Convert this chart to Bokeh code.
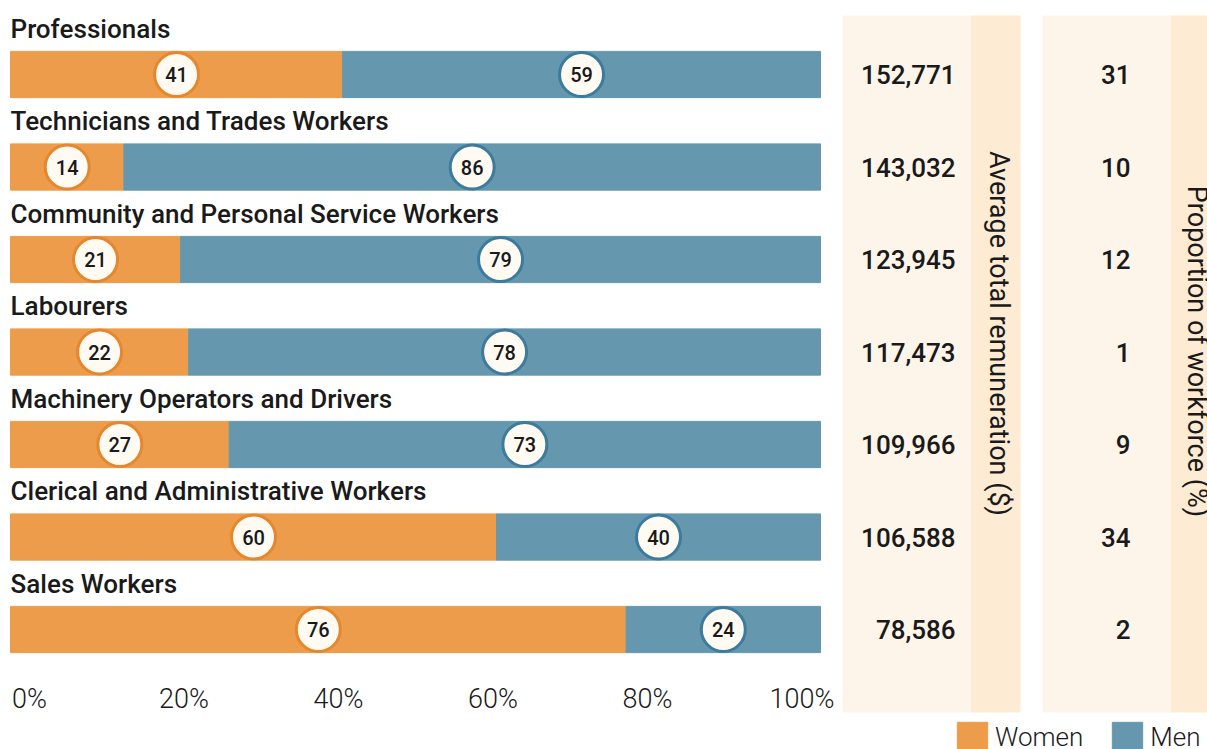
import math
from bokeh.plotting import figure
from bokeh.models import Range1d, BoxAnnotation, Legend, LegendItem, ColumnDataSource, Label
from bokeh.core.properties import value
from bokeh.embed import file_html
from bokeh.resources import INLINE

# ---------------- data ----------------
categories = ["Professionals", "Technicians and Trades Workers",
              "Community and Personal Service Workers", "Labourers",
              "Machinery Operators and Drivers", "Clerical and Administrative Workers",
              "Sales Workers"]
women = [41, 14, 21, 22, 27, 60, 76]
men = [59, 86, 79, 78, 73, 40, 24]
remuneration = [152771, 143032, 123945, 117473, 109966, 106588, 78586]
workforce = [31, 10, 12, 1, 9, 34, 2]
tick_values = [0, 20, 40, 60, 80, 100]
tick_labels = ["0%", "20%", "40%", "60%", "80%", "100%"]
series_names = ["Women", "Men"]
panel_titles = ["Average total remuneration ($)", "Proportion of workforce (%)"]

# ---------------- style / layout ----------------
ORANGE = "#EC9C4B"
ORANGE_LINE = "#E5872C"
BLUE = "#6598AF"
BLUE_LINE = "#3C7B9B"
CREAM = "#FFFBF3"
PANEL = "#FEF5EA"
STRIP = "#FDEBD3"
TXT = "#1a1a1a"
F_MED = value("Roboto Medium")
F_LIGHT = value("Roboto Light")

W, H = 1207, 749
BAR_L, BAR_W = 10, 810          # pixel extent of the 0-100% bars
ROW_PX = 92.5                   # pixels between rows
TOP_ROW_PX = 74                 # pixel centre of the first row
Y_END = 6 + TOP_ROW_PX / ROW_PX
Y_START = Y_END - H / ROW_PX
TICK_L, TICK_R = 29, 801.5      # pixel centres of the first/last tick labels


def ypx(py):
    return Y_END - py / ROW_PX


n = len(categories)
ys = [n - 1 - i for i in range(n)]
src = ColumnDataSource(dict(
    y=ys,
    label_y=[y + 46 / ROW_PX for y in ys],
    cat=categories,
    women=women,
    total=[w + m for w, m in zip(women, men)],
    wx=[w / 2 for w in women],
    mx=[w + m / 2 for w, m in zip(women, men)],
    wl=[str(w) for w in women],
    ml=[str(m) for m in men],
    rem=[f"{r:,}" for r in remuneration],
    wf=[str(v) for v in workforce],
))
tick_src = ColumnDataSource(dict(x=tick_values, text=tick_labels,
                                 y=[ypx(698)] * len(tick_values)))

x_start = -BAR_L / BAR_W * 100
x_end = (W - BAR_L) / BAR_W * 100
t_scale = (TICK_R - TICK_L) / 100
p = figure(width=W, height=H, x_range=Range1d(x_start, x_end),
           y_range=Range1d(Y_START, Y_END),
           min_border_left=0, min_border_right=0, min_border_top=0, min_border_bottom=0,
           toolbar_location=None, output_backend="svg",
           x_axis_location=None, y_axis_location=None)
p.extra_x_ranges = {"px": Range1d(0, W),
                    "ticks": Range1d(-TICK_L / t_scale, (W - TICK_L) / t_scale)}
p.outline_line_color = None
p.xgrid.visible = False
p.ygrid.visible = False

# side panels (backgrounds)
for l, r, c in [(842, 970, PANEL), (970, 1020, STRIP), (1042, 1170, PANEL), (1170, 1230, STRIP)]:
    p.add_layout(BoxAnnotation(left=l, right=r, top=ypx(15), bottom=ypx(712),
                               x_range_name="px", fill_color=c, fill_alpha=1,
                               line_alpha=0, level="underlay"))

# bars
rw = p.hbar(y="y", left=0, right="women", height=0.5, color=ORANGE, source=src)
rm = p.hbar(y="y", left="women", right="total", height=0.5, color=BLUE, source=src)

# value bubbles
p.scatter(x="wx", y="y", marker="circle", size=44, fill_color=CREAM,
          line_color=ORANGE_LINE, line_width=3, source=src)
p.scatter(x="mx", y="y", marker="circle", size=44, fill_color=CREAM,
          line_color=BLUE_LINE, line_width=3, source=src)
p.text(x="wx", y="y", text="wl", text_align="center", text_baseline="middle",
       text_font=F_MED, text_font_size="20px", text_color=TXT, source=src)
p.text(x="mx", y="y", text="ml", text_align="center", text_baseline="middle",
       text_font=F_MED, text_font_size="20px", text_color=TXT, source=src)

# category labels
p.text(x=0, y="label_y", text="cat", text_align="left", text_baseline="middle",
       text_font=F_MED, text_font_size="26px", text_color=TXT, source=src)

# percent tick labels
p.text(x="x", y="y", text="text", x_range_name="ticks", text_align="center",
       text_baseline="middle", text_font=F_LIGHT, text_font_size="27px",
       text_color=TXT, source=tick_src)

# side panel values
p.text(x=955, y="y", text="rem", x_range_name="px", text_align="right",
       text_baseline="middle", text_font=F_MED, text_font_size="26px",
       text_color=TXT, source=src)
p.text(x=1130, y="y", text="wf", x_range_name="px", text_align="right",
       text_baseline="middle", text_font=F_MED, text_font_size="26px",
       text_color=TXT, source=src)

p.add_layout(Label(x=998, y=ypx(333), x_range_name="px", text=panel_titles[0],
                   angle=-math.pi / 2, text_align="center", text_baseline="middle",
                   text_font="Roboto", text_font_size="27px", text_color=TXT))
p.add_layout(Label(x=1196, y=ypx(351), x_range_name="px", text=panel_titles[1],
                   angle=-math.pi / 2, text_align="center", text_baseline="middle",
                   text_font="Roboto", text_font_size="27px", text_color=TXT))

legend = Legend(items=[LegendItem(label=series_names[0], renderers=[rw]),
                       LegendItem(label=series_names[1], renderers=[rm])],
                location=(953, -7), orientation="horizontal", padding=0, margin=0,
                spacing=25, glyph_width=38, glyph_height=38, label_standoff=4,
                border_line_alpha=0, background_fill_alpha=0,
                label_text_font="Roboto Light", label_text_font_size="26px",
                label_text_color=TXT)
p.add_layout(legend)

open("out.html", "w").write(file_html(p, INLINE))
